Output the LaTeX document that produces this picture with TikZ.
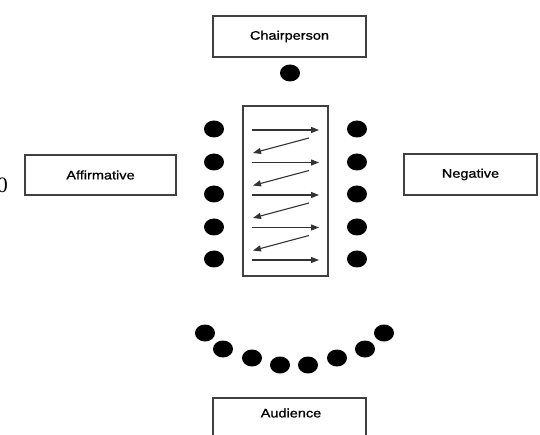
\documentclass[tikz,border=0pt]{standalone}
\usepackage{fontspec}
\setmainfont{Liberation Sans}[FakeStretch=1.18, FakeBold=1]
\newfontfamily\edgefont{Liberation Serif}
\usetikzlibrary{shapes.geometric}
\usetikzlibrary{arrows.meta}
\usetikzlibrary{calc}
\tikzstyle{label}=[font=\fontsize{12.3}{14}\selectfont]
\tikzstyle{role}=[label, draw=black!75, line width=1.2pt, inner sep=0pt, minimum width=153pt, minimum height=41pt]
\tikzstyle{seat}=[ellipse, fill=black, inner sep=0pt, minimum width=20pt, minimum height=17pt]
\tikzstyle{speech}=[-{Triangle[length=8pt, width=6pt]}, line width=1.1pt, draw=black!80]

\begin{document}
\begin{tikzpicture}[x=1pt, y=-1pt]
        \useasboundingbox (0, 0) rectangle (540, 435);
        \node[anchor=east, inner sep=0pt, font=\edgefont\fontsize{22}{24}\selectfont] (cut) at (8, 185) {0};
        \node[role] (chair) at (289.5, 36.5) {Chairperson};
        \node[role, minimum width=151pt, minimum height=40pt] (aff) at (100.5, 175) {Affirmative};
        \node[role, minimum width=133pt] (neg) at (470.5, 174.5) {Negative};
        \node[role] (aud) at (289.5, 418.5) {};
        \node[label] (audtext) at (291, 413) {Audience};
        \node[draw=black!75, line width=1.2pt, minimum width=85pt, minimum height=170pt] (table) at (285.5, 191) {};
        % seats
        \node[seat] (c0) at (290, 73) {};
        \node[seat] (l1) at (214, 129) {};
        \node[seat] (l2) at (214, 162) {};
        \node[seat] (l3) at (214, 194) {};
        \node[seat] (l4) at (214, 227) {};
        \node[seat] (l5) at (214, 259) {};
        \node[seat] (r1) at (357, 129) {};
        \node[seat] (r2) at (357, 162) {};
        \node[seat] (r3) at (357, 194) {};
        \node[seat] (r4) at (357, 227) {};
        \node[seat] (r5) at (357, 259) {};
        \node[seat] (a1) at (205, 333) {};
        \node[seat] (a2) at (223, 349) {};
        \node[seat] (a3) at (252, 358) {};
        \node[seat] (a4) at (280, 365) {};
        \node[seat] (a5) at (308, 365) {};
        \node[seat] (a6) at (337, 358) {};
        \node[seat] (a7) at (365, 349) {};
        \node[seat] (a8) at (384, 333) {};
        % exchanges
        \coordinate (P1) at (252, 130);
        \coordinate (Q1) at (319, 130);
        \coordinate (P2) at (252, 162.5);
        \coordinate (Q2) at (319, 162.5);
        \coordinate (P3) at (252, 195);
        \coordinate (Q3) at (319, 195);
        \coordinate (P4) at (252, 227.5);
        \coordinate (Q4) at (319, 227.5);
        \coordinate (P5) at (252, 260);
        \coordinate (Q5) at (319, 260);
        \draw[speech] (P1) -- (Q1);
        \draw[speech] (P2) -- (Q2);
        \draw[speech] (P3) -- (Q3);
        \draw[speech] (P4) -- (Q4);
        \draw[speech] (P5) -- (Q5);
        \draw[speech] ($(Q1)+(-10, 8)$) -- ($(P1)+(1, 23)$);
        \draw[speech] ($(Q2)+(-10, 8)$) -- ($(P2)+(1, 23)$);
        \draw[speech] ($(Q3)+(-10, 8)$) -- ($(P3)+(1, 23)$);
        \draw[speech] ($(Q4)+(-10, 8)$) -- ($(P4)+(1, 23)$);
    \end{tikzpicture}
\end{document}
